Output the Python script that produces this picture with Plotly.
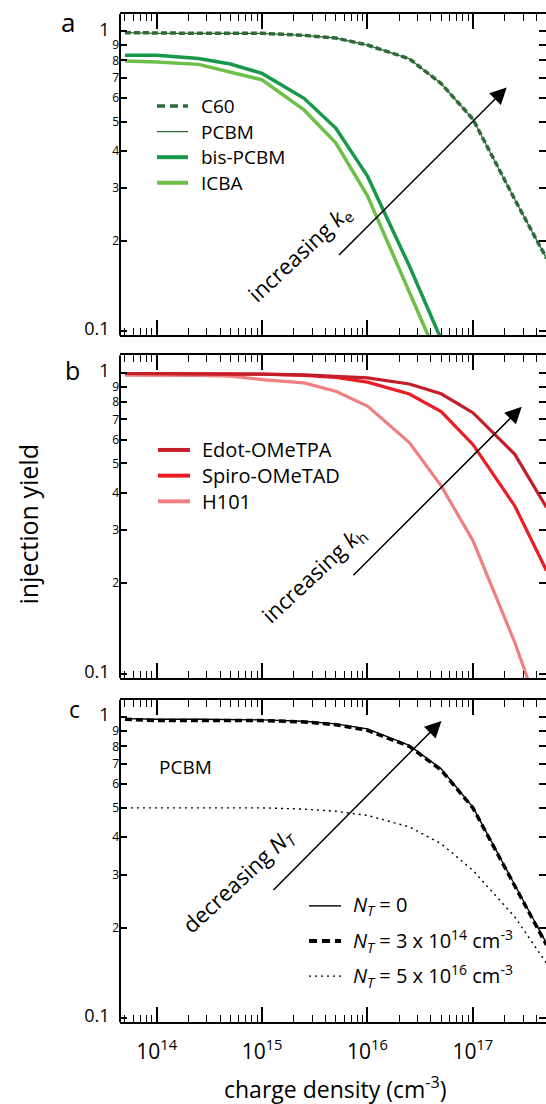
import plotly.graph_objects as go

W, H = 546, 1104
FONT = "Open Sans"

# ---------------- data ----------------
density = [5e13, 1e14, 2.5e14, 5e14, 1e15, 2.5e15, 5e15, 1e16, 2.5e16, 5e16, 1e17, 2.5e17, 5e17]

# panel a (electron acceptors)
c60 = [0.99, 0.985, 0.985, 0.985, 0.985, 0.97, 0.95, 0.90, 0.81, 0.67, 0.51, 0.275, 0.175]
pcbm = [0.99, 0.985, 0.985, 0.985, 0.985, 0.97, 0.95, 0.90, 0.81, 0.67, 0.51, 0.275, 0.175]
bis_pcbm = [0.833, 0.833, 0.812, 0.778, 0.724, 0.598, 0.476, 0.329, 0.165, 0.094]
icba = [0.796, 0.79, 0.776, 0.731, 0.689, 0.547, 0.425, 0.283, 0.135, 0.077]

# panel b (hole transporters)
edot = [0.995, 0.995, 0.995, 0.99, 0.99, 0.985, 0.975, 0.962, 0.918, 0.852, 0.737, 0.536, 0.357]
spiro = [0.995, 0.995, 0.995, 0.99, 0.99, 0.98, 0.965, 0.931, 0.85, 0.743, 0.578, 0.361, 0.22]
h101 = [0.982, 0.982, 0.98, 0.975, 0.95, 0.926, 0.869, 0.775, 0.586, 0.421, 0.277, 0.127, 0.064]

# panel c (trap density, PCBM)
nt_0 = [0.99, 0.985, 0.985, 0.985, 0.98, 0.97, 0.951, 0.915, 0.806, 0.674, 0.503, 0.277, 0.177]
nt_3e14 = [0.985, 0.975, 0.975, 0.975, 0.975, 0.965, 0.945, 0.905, 0.80, 0.668, 0.50, 0.275, 0.175]
nt_5e16 = [0.5, 0.5, 0.5, 0.5, 0.5, 0.495, 0.487, 0.472, 0.432, 0.38, 0.31, 0.217, 0.152]

x_major = [1e14, 1e15, 1e16, 1e17]
x_major_text = ["10<sup>14</sup>", "10<sup>15</sup>", "10<sup>16</sup>", "10<sup>17</sup>"]
y_ticks = [0.1, 0.2, 0.3, 0.4, 0.5, 0.6, 0.7, 0.8, 0.9, 1.0]
y_tick_text = ["0.1", "2", "3", "4", "5", "6", "7", "8", "9", "1"]

# ---------------- styles ----------------
DKGREEN = "#2f6b38"
GREEN = "#17984a"
LTGREEN = "#6dbf47"
DKRED = "#c21f2a"
RED = "#ec1c24"
PINK = "#f07f82"

X_RANGE = [13.652, 17.694]
Y_RANGE = [-1.014, 0.058]
LEFT = 120


def py(v):
    return 1 - v / H


def px(v):
    return v / W


domains = [
    [py(337), py(14)],
    [py(681), py(357)],
    [py(1027), py(703)],
]

fig = go.Figure()


def add(xs, ys, color, width, dash, k, name):
    n = len(ys)
    xref = "x" if k == 1 else f"x{k}"
    yref = "y" if k == 1 else f"y{k}"
    fig.add_trace(go.Scatter(
        x=xs[:n], y=ys, mode="lines", name=name,
        line=dict(color=color, width=width, dash=dash),
        xaxis=xref, yaxis=yref, showlegend=False,
    ))


add(density, c60, DKGREEN, 3.5, "6px,3px", 1, "C60")
add(density, pcbm, DKGREEN, 1.3, "solid", 1, "PCBM")
add(density, bis_pcbm, GREEN, 3.5, "solid", 1, "bis-PCBM")
add(density, icba, LTGREEN, 3.5, "solid", 1, "ICBA")

add(density, h101, PINK, 3.2, "solid", 2, "H101")
add(density, spiro, RED, 3.2, "solid", 2, "Spiro-OMeTAD")
add(density, edot, DKRED, 3.2, "solid", 2, "Edot-OMeTPA")

add(density, nt_3e14, "black", 3.5, "7px,4px", 3, "NT=3e14")
add(density, nt_0, "black", 1.4, "solid", 3, "NT=0")
add(density, nt_5e16, "black", 1.4, "2px,4px", 3, "NT=5e16")

minor_vals = []
for d in range(13, 18):
    for m in range(2, 10):
        minor_vals.append(m * 10 ** d)

big = '<span style="font-size:18px">{}</span>'
ytext = [big.format(t + "\u00a0\u00a0") if t in ("0.1", "1") else t for t in y_tick_text]

layout = dict(
    width=W, height=H,
    margin=dict(l=0, r=0, t=0, b=0),
    paper_bgcolor="white", plot_bgcolor="white",
    font=dict(family=FONT, color="black"),
    showlegend=False,
)

for k in (1, 2, 3):
    sfx = "" if k == 1 else str(k)
    layout["xaxis" + sfx] = dict(
        type="log", range=X_RANGE, domain=[LEFT / W, 1],
        anchor="y" + sfx,
        showline=True, linewidth=2, linecolor="black", mirror="ticks",
        ticks="inside", ticklen=15, tickwidth=1.5, tickcolor="black",
        tickmode="array", tickvals=x_major,
        ticktext=x_major_text, showticklabels=(k == 3),
        ticklabelstandoff=9,
        tickfont=dict(size=21, family=FONT, color="black"),
        showgrid=False, zeroline=False,
        minor=dict(tickmode="array", tickvals=minor_vals, ticks="inside",
                   ticklen=7, tickwidth=1.3, tickcolor="black", showgrid=False),
    )
    layout["yaxis" + sfx] = dict(
        type="log", range=Y_RANGE, domain=domains[k - 1],
        anchor="x" + sfx,
        showline=False, mirror="ticks",
        ticks="inside", ticklen=7, tickwidth=1.5, tickcolor="black",
        tickmode="array", tickvals=y_ticks, ticktext=ytext,
        tickfont=dict(size=12, family=FONT, color="black"),
        showgrid=False, zeroline=False,
    )

fig.update_layout(**layout)

shapes = []
# left axis lines
for k in (1, 2, 3):
    sfx = "" if k == 1 else str(k)
    shapes.append(dict(type="line", xref="x" + sfx + " domain", yref="y" + sfx + " domain",
                       x0=0, x1=0, y0=0, y1=1, line=dict(color="black", width=2), layer="above"))

annotations = []


def label(xp, yp, text, size, anchor="left", **kw):
    annotations.append(dict(x=px(xp), y=py(yp), xref="paper", yref="paper", text=text,
                            showarrow=False, xanchor=anchor, yanchor="middle",
                            font=dict(size=size, family=FONT, color="black"), **kw))


def legend_line(x0, x1, y, color, width, dash):
    shapes.append(dict(type="line", xref="paper", yref="paper", x0=px(x0), x1=px(x1),
                       y0=py(y), y1=py(y), line=dict(color=color, width=width, dash=dash)))


# panel a legend
leg_a = [("C60", DKGREEN, 3.5, "8px,5px"), ("PCBM", DKGREEN, 1.3, "solid"),
         ("bis-PCBM", GREEN, 4, "solid"), ("ICBA", LTGREEN, 4, "solid")]
for i, (t, c, w, d) in enumerate(leg_a):
    yy = 106.5 + i * 25.7
    legend_line(157, 188, yy, c, w, d)
    label(199, yy, t, 19)

# panel b legend
leg_b = [("Edot-OMeTPA", DKRED), ("Spiro-OMeTAD", RED), ("H101", PINK)]
for i, (t, c) in enumerate(leg_b):
    yy = 452 + i * 25.8
    legend_line(158, 190, yy, c, 4, "solid")
    label(200, yy, t, 20)

# panel c legend
NT = "<i>N</i><sub><i>T</i></sub>"
leg_c = [(NT + " = 0", 1.4, "solid"),
         (NT + " = 3 x 10<sup>14</sup> cm<sup>-3</sup>", 4, "8px,5px"),
         (NT + " = 5 x 10<sup>16</sup> cm<sup>-3</sup>", 1.4, "2px,4px")]
for i, (t, w, d) in enumerate(leg_c):
    yy = 910 + i * 35.3
    legend_line(309, 341, yy, "black", w, d)
    label(351, yy, t, 20)

label(157, 770, "PCBM", 19)

# panel letters
label(68, 22, "a", 26, anchor="center")
label(72, 372, "b", 25, anchor="center")
label(74, 712, "c", 23, anchor="center")

# axis titles
label(28, 527, "injection yield", 25, anchor="center", textangle=-90)
label(335, 1093, "charge density (cm<sup>-3</sup>)", 23, anchor="center")

# rotated arrow labels
label(300, 255, "increasing <i>k</i><sub>e</sub>", 22, anchor="center", textangle=-43)
label(314, 578, "increasing <i>k</i><sub>h</sub>", 22, anchor="center", textangle=-43)
label(239, 885, "decreasing " + NT, 22, anchor="center", textangle=-43)

# arrows (log-axis coordinates)
arrows = [
    (1, 15.716, -0.751, 17.321, -0.187),
    (2, 15.852, -0.678, 17.464, -0.113),
    (3, 15.094, -0.579, 16.702, -0.012),
]
for k, x0, y0, x1, y1 in arrows:
    sfx = "" if k == 1 else str(k)
    annotations.append(dict(x=x1, y=y1, ax=x0, ay=y0, xref="x" + sfx, yref="y" + sfx,
                            axref="x" + sfx, ayref="y" + sfx, text="", showarrow=True,
                            arrowhead=2, arrowsize=2.2, arrowwidth=1.5, arrowcolor="black"))

fig.update_layout(shapes=shapes, annotations=annotations)
fig.write_html(
    "out.html",
    config={"displayModeBar": False},
    post_script="document.body.style.margin='0px';document.body.style.overflow='hidden';",
)
